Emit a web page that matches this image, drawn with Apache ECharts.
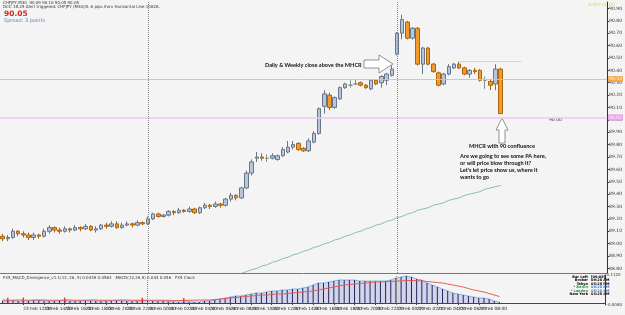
<!DOCTYPE html>
<html lang="en">
<head>
<meta charset="UTF-8">
<title>CHFJPY,M30</title>
<script src="https://cdn.jsdelivr.net/npm/echarts@6/dist/echarts.min.js"></script>
<style>
  html, body { margin: 0; padding: 0; background: #f4f4f4; }
  #chart { width: 625px; height: 315px; }
</style>
</head>
<body>
<div id="chart"></div>
<script>
// 30 min bars, 23 Feb 10:00 -> 27 Feb 10:00
var opens = [
  89.06, 89.04, 89.05, 89.10, 89.08, 89.07, 89.05, 89.07, 89.06, 89.10,
  89.13, 89.11, 89.10, 89.12, 89.11, 89.13, 89.12, 89.14, 89.11, 89.12,
  89.15, 89.14, 89.16, 89.13, 89.15, 89.16, 89.15, 89.17, 89.16, 89.20,
  89.24, 89.22, 89.23, 89.26, 89.25, 89.27, 89.26, 89.28, 89.25, 89.29,
  89.31, 89.30, 89.32, 89.31, 89.36, 89.39, 89.37, 89.45, 89.57, 89.69,
  89.70, 89.69, 89.69, 89.68, 89.71, 89.74, 89.78, 89.81, 89.77, 89.75,
  89.82, 89.89, 90.11, 90.20, 90.10, 90.17, 90.26, 90.28, 90.29, 90.30,
  90.28, 90.25, 90.32, 90.30, 90.32, 90.36, 90.53, 90.70, 90.79, 90.66,
  90.74, 90.45, 90.58, 90.45, 90.38, 90.29, 90.37, 90.42, 90.45, 90.42,
  90.37, 90.40, 90.40, 90.32, 90.31, 90.29, 90.41
];
var closes = [
  89.04, 89.05, 89.10, 89.08, 89.07, 89.05, 89.07, 89.06, 89.10, 89.13,
  89.11, 89.10, 89.12, 89.11, 89.13, 89.12, 89.14, 89.11, 89.12, 89.15,
  89.14, 89.16, 89.13, 89.15, 89.16, 89.15, 89.17, 89.16, 89.20, 89.24,
  89.22, 89.23, 89.26, 89.25, 89.27, 89.26, 89.28, 89.25, 89.29, 89.31,
  89.30, 89.32, 89.31, 89.36, 89.39, 89.37, 89.45, 89.57, 89.66, 89.70,
  89.69, 89.69, 89.71, 89.71, 89.76, 89.78, 89.80, 89.76, 89.75, 89.83,
  89.89, 90.09, 90.21, 90.10, 90.18, 90.26, 90.29, 90.28, 90.29, 90.28,
  90.26, 90.32, 90.29, 90.35, 90.37, 90.41, 90.70, 90.81, 90.66, 90.74,
  90.45, 90.58, 90.45, 90.39, 90.28, 90.37, 90.43, 90.45, 90.42, 90.37,
  90.40, 90.39, 90.32, 90.32, 90.28, 90.41, 90.05
];
var lows = [
  89.02, 89.02, 89.04, 89.06, 89.05, 89.03, 89.03, 89.04, 89.05, 89.08,
  89.09, 89.08, 89.09, 89.09, 89.10, 89.10, 89.11, 89.10, 89.09, 89.11,
  89.12, 89.13, 89.12, 89.12, 89.14, 89.13, 89.14, 89.15, 89.15, 89.19,
  89.21, 89.21, 89.22, 89.23, 89.24, 89.25, 89.25, 89.24, 89.24, 89.28,
  89.28, 89.29, 89.29, 89.30, 89.34, 89.35, 89.36, 89.44, 89.55, 89.66,
  89.67, 89.66, 89.68, 89.67, 89.70, 89.73, 89.76, 89.75, 89.74, 89.74,
  89.81, 89.88, 90.05, 90.08, 90.09, 90.16, 90.25, 90.26, 90.28, 90.27,
  90.25, 90.24, 90.28, 90.26, 90.28, 90.35, 90.52, 90.65, 90.65, 90.65,
  90.44, 90.37, 90.44, 90.38, 90.27, 90.28, 90.36, 90.41, 90.41, 90.36,
  90.34, 90.37, 90.31, 90.25, 90.24, 90.24, 90.05
];
var highs = [
  89.08, 89.07, 89.12, 89.11, 89.10, 89.09, 89.09, 89.08, 89.12, 89.15,
  89.14, 89.13, 89.14, 89.13, 89.15, 89.14, 89.16, 89.15, 89.14, 89.16,
  89.17, 89.18, 89.18, 89.17, 89.18, 89.17, 89.19, 89.18, 89.22, 89.25,
  89.25, 89.24, 89.27, 89.27, 89.29, 89.28, 89.30, 89.29, 89.30, 89.33,
  89.32, 89.34, 89.33, 89.37, 89.41, 89.40, 89.46, 89.59, 89.68, 89.74,
  89.73, 89.72, 89.73, 89.72, 89.78, 89.83, 89.83, 89.82, 89.78, 89.85,
  89.91, 90.10, 90.24, 90.22, 90.19, 90.27, 90.30, 90.32, 90.33, 90.31,
  90.29, 90.33, 90.33, 90.36, 90.38, 90.44, 90.71, 90.85, 90.80, 90.75,
  90.75, 90.59, 90.59, 90.46, 90.39, 90.38, 90.45, 90.46, 90.47, 90.43,
  90.41, 90.42, 90.41, 90.35, 90.33, 90.45, 90.42
];

// slow moving average (green), starts at bar 46
var maStart = 46;
var maValues = [
  88.76, 88.775, 88.79, 88.80, 88.82, 88.83, 88.85, 88.86, 88.88, 88.89,
  88.91, 88.92, 88.94, 88.95, 88.97, 88.98, 89.00, 89.01, 89.03, 89.04,
  89.06, 89.07, 89.09, 89.10, 89.12, 89.13, 89.15, 89.16, 89.18, 89.19,
  89.21, 89.22, 89.24, 89.25, 89.27, 89.28, 89.29, 89.31, 89.32, 89.33,
  89.35, 89.36, 89.37, 89.39, 89.40, 89.41, 89.42, 89.44, 89.45, 89.46,
  89.47
];

// MACD sub window
var macdHist = [
  0.009, 0.007, 0.011, 0.008, 0.006, 0.008, 0.012, 0.011, 0.009, 0.007,
  0.008, 0.010, 0.009, 0.008, 0.007, 0.008, 0.011, 0.009, 0.008, 0.007,
  0.008, 0.009, 0.011, 0.009, 0.008, 0.007, 0.008, 0.009, 0.010, 0.008,
  0.007, 0.008, 0.006, 0.005, 0.004, 0.004, 0.005, 0.004,
  0.004, 0.008, 0.008, 0.012, 0.016, 0.020, 0.024, 0.028, 0.028, 0.032,
  0.036, 0.040, 0.040, 0.044, 0.048, 0.048, 0.052, 0.052, 0.056, 0.056,
  0.060, 0.064, 0.072, 0.080, 0.080, 0.084, 0.088, 0.092, 0.092, 0.092,
  0.092, 0.088, 0.088, 0.088, 0.088, 0.088, 0.088, 0.092, 0.100, 0.104,
  0.108, 0.104, 0.096, 0.092, 0.080, 0.072, 0.064, 0.056, 0.048, 0.040,
  0.036, 0.032, 0.028, 0.024, 0.020, 0.020, 0.016, 0.008, 0.004
];
var macdSignal = [
  0.012, 0.011, 0.011, 0.012, 0.012, 0.011, 0.011, 0.012, 0.012, 0.011,
  0.011, 0.011, 0.012, 0.012, 0.011, 0.011, 0.011, 0.012, 0.012, 0.011,
  0.011, 0.011, 0.011, 0.012, 0.012, 0.011, 0.011, 0.011, 0.011, 0.011,
  0.011, 0.011, 0.011, 0.010, 0.010, 0.010, 0.011, 0.011,
  0.012, 0.012, 0.012, 0.014, 0.016, 0.018, 0.020, 0.022, 0.024, 0.026,
  0.028, 0.030, 0.032, 0.032, 0.034, 0.036, 0.036, 0.038, 0.040, 0.042,
  0.044, 0.046, 0.048, 0.052, 0.056, 0.060, 0.064, 0.068, 0.072, 0.074,
  0.076, 0.078, 0.080, 0.082, 0.084, 0.084, 0.086, 0.086, 0.088, 0.088,
  0.090, 0.090, 0.090, 0.088, 0.086, 0.084, 0.082, 0.080, 0.076, 0.072,
  0.068, 0.064, 0.058, 0.052, 0.048, 0.044, 0.038, 0.032, 0.026
];
var divergenceBars = [1, 4, 12, 27, 35];

// one label every 4 bars (2 hours)
var xTickLabels = [
  '23 Feb 2012', '23 Feb 12:00', '23 Feb 14:00', '23 Feb 16:00', '23 Feb 18:00',
  '23 Feb 20:00', '23 Feb 22:00', '24 Feb 00:00', '24 Feb 02:00', '24 Feb 04:00',
  '24 Feb 06:00', '24 Feb 08:00', '24 Feb 10:00', '24 Feb 12:00', '24 Feb 14:00',
  '24 Feb 16:00', '24 Feb 18:00', '24 Feb 20:00', '24 Feb 22:00', '27 Feb 00:00',
  '27 Feb 02:00', '27 Feb 04:00', '27 Feb 06:00', '27 Feb 08:00', '27 Feb 10:00'
];
var daySeparators = [28, 76];

// horizontal levels
var mhcrLevel = 90.33;
var level90 = 90.02;
var upperLevel = 90.47;

var totalSlots = 117;   // bars + empty chart shift on the right
var cats = [];
for (var i = 0; i < totalSlots; i++) cats.push(String(i));

var candles = opens.map(function (o, i) { return [o, closes[i], lows[i], highs[i]]; });
var maData = [];
for (var i = 0; i < maStart; i++) maData.push('-');
maValues.forEach(function (v) { maData.push(v); });
var lastPrice = closes[closes.length - 1];

var axisFont = 'DejaVu Sans';
var noteFont = 'bold 5.6px Lato';

function boxLabel(bg, fg, txt) {
  return {
    show: true, position: 'end', distance: 1, formatter: txt,
    backgroundColor: bg, color: fg, fontSize: 4.5, fontFamily: axisFont,
    padding: [1, 1, 0, 1]
  };
}
function sepLine(v) {
  return { xAxis: v, lineStyle: { color: '#888', type: 'dotted', width: 1 }, label: { show: false } };
}

function txt(x, y, s, font, fill, align) {
  return {
    type: 'text', x: x, y: y, silent: true,
    style: { text: s, font: font, fill: fill, align: align || 'left', verticalAlign: 'top' }
  };
}

var clockRows = [
  ['Bar Left', '[09:08]', '#000'],
  ['Broker', '09:28 AM', '#000'],
  ['Tokyo', '05:28 PM', '#000'],
  ['* Berlin', '09:28 AM', '#2e9a2e'],
  ['* London', '08:28 AM', '#2e9a2e'],
  ['New York', '03:28 AM', '#000']
];

var graphics = [
  txt(3, 1, 'CHFJPY,M30  90.09 90.10 90.05 90.05', '4px ' + axisFont, '#333'),
  txt(3, 5, 'DCC 18:25 Alert triggered: CHFJPY (M30)/IL 6 pips from Horizontal Line 10826.', '4px ' + axisFont, '#333'),
  txt(4, 10, lastPrice.toFixed(2), 'bold 7.5px ' + axisFont, '#d8231f'),
  txt(4, 18, 'Spread: 3 points', '5px ' + axisFont, '#5a84c0'),
  txt(588, 2, '4:00+00:00', '4.5px ' + axisFont, '#e3d54a'),
  txt(265, 62, 'Daily & Weekly close above the MHCR', noteFont, '#111'),
  {
    type: 'polygon', silent: true,
    shape: { points: [[364, 60], [379, 60], [379, 55], [393, 64], [379, 73], [379, 68], [364, 68]] },
    style: { fill: '#fff', stroke: '#777', lineWidth: 0.8 }
  },
  {
    type: 'polygon', silent: true,
    shape: { points: [[502, 118], [508, 130], [505, 130], [505, 143], [499, 143], [499, 130], [496, 130]] },
    style: { fill: '#fff', stroke: '#777', lineWidth: 0.8 }
  },
  txt(469, 143, 'MHCR with 90 confluence', noteFont, '#111'),
  txt(460, 153, 'Are we going to see some PA here,', noteFont, '#111'),
  txt(460, 160, 'or will price blow through it?', noteFont, '#111'),
  txt(460, 167, "Let's let price show us, where it", noteFont, '#111'),
  txt(460, 174, 'wants to go', noteFont, '#111'),
  txt(549, 117, '90.00', '4.5px ' + axisFont, '#333'),
  txt(3, 276, 'FX5_MACD_Divergence_v1.1(12, 26, 9) 0.0439 0.0563   MACD(12,26,9) 0.044 0.056   FX5 Clock', '4px ' + axisFont, '#333'),
  txt(3, 301, 'FX5 Clock v1.0 2010 - Free System Software Deal', '4px ' + axisFont, '#333')
];
clockRows.forEach(function (r, k) {
  graphics.push(txt(588, 275 + k * 3.5, r[0], 'bold 3.5px ' + axisFont, r[2], 'right'));
  graphics.push(txt(591, 275 + k * 3.5, r[1], 'bold 3.5px ' + axisFont, k === 3 || k === 4 ? '#3a7fd0' : '#000'));
});

var chart = echarts.init(document.getElementById('chart'));
var option = {
  animation: false,
  backgroundColor: '#f4f4f4',
  grid: [
    { left: -1, right: 13, top: 2, height: 271 },
    { left: -1, right: 13, top: 275, height: 30 }
  ],
  xAxis: [
    {
      type: 'category', gridIndex: 0, data: cats, boundaryGap: true,
      axisLabel: { show: false }, axisTick: { show: false },
      axisLine: { show: true, lineStyle: { color: '#777', width: 1 } },
      splitLine: { show: false }
    },
    {
      type: 'category', gridIndex: 1, data: cats, boundaryGap: true,
      axisLine: { show: true, lineStyle: { color: '#444', width: 1 } },
      axisTick: {
        show: true, length: 2, alignWithLabel: true, lineStyle: { color: '#444' },
        interval: function (idx) { return idx % 4 === 0 && idx < opens.length; }
      },
      axisLabel: {
        fontSize: 4.3, fontFamily: axisFont, color: '#222', margin: 2, align: 'left',
        interval: function (idx) { return idx % 4 === 0 && idx < opens.length; },
        formatter: function (v, idx) { return xTickLabels[idx / 4] || ''; }
      },
      splitLine: { show: false }
    }
  ],
  yAxis: [
    {
      type: 'value', gridIndex: 0, position: 'right', scale: true,
      min: 88.763, max: 90.952, splitNumber: 22,
      splitLine: { show: false },
      axisLine: { show: true, lineStyle: { color: '#333', width: 1 } },
      axisTick: { show: true, length: 2, lineStyle: { color: '#333' } },
      axisLabel: {
        fontSize: 4.5, fontFamily: axisFont, color: '#333', margin: 2,
        showMinLabel: false, showMaxLabel: false,
        formatter: function (v) { return v.toFixed(2); }
      }
    },
    {
      type: 'value', gridIndex: 1, position: 'right',
      min: -0.008, max: 0.112, splitNumber: 1,
      splitLine: { show: false },
      axisLine: { show: true, lineStyle: { color: '#333', width: 1 } },
      axisTick: { show: false },
      axisLabel: {
        fontSize: 4, fontFamily: axisFont, color: '#333', margin: 1,
        formatter: function (v) { return (v === 0.112 || v === -0.008) ? v.toFixed(4) : ''; }
      }
    }
  ],
  series: [
    {
      name: 'CHFJPY', type: 'candlestick', xAxisIndex: 0, yAxisIndex: 0,
      data: candles, barWidth: 4,
      itemStyle: {
        color: '#b9c6d8', color0: '#f39a2a',
        borderColor: '#67778b', borderColor0: '#a9640f',
        borderColorDoji: '#8a8a8a', borderWidth: 1
      },
      markLine: {
        silent: true, symbol: ['none', 'none'], animation: false,
        data: [
          { yAxis: mhcrLevel, lineStyle: { color: '#f4bd7c', width: 1, type: 'solid', opacity: 0.9 },
            label: boxLabel('#f2a238', '#fff', mhcrLevel.toFixed(2)) },
          { yAxis: level90, lineStyle: { color: '#eec8f0', width: 1.5, type: 'solid' },
            label: boxLabel('#ee9cee', '#fff', level90.toFixed(2)) },
          { yAxis: lastPrice, lineStyle: { opacity: 0 },
            label: boxLabel('#000', '#fff', lastPrice.toFixed(2)) },
          [
            { coord: [88, upperLevel], lineStyle: { color: '#f6cf9e', width: 1, type: 'solid' }, label: { show: false } },
            { coord: [100, upperLevel] }
          ],
          sepLine(daySeparators[0]),
          sepLine(daySeparators[1])
        ]
      },
      z: 3
    },
    {
      name: 'MA', type: 'line', xAxisIndex: 0, yAxisIndex: 0, data: maData,
      symbol: 'none', lineStyle: { color: '#84c69c', width: 1 }, z: 2
    },
    {
      name: 'MACD', type: 'line', xAxisIndex: 1, yAxisIndex: 1, data: macdHist,
      symbol: 'none', lineStyle: { color: '#8ab6e8', width: 1 },
      areaStyle: { color: '#d4d5ea', opacity: 1 }, z: 1
    },
    {
      name: 'Hist', type: 'bar', xAxisIndex: 1, yAxisIndex: 1, data: macdHist,
      barWidth: 1, itemStyle: { color: '#22265e' }, z: 2,
      markLine: {
        silent: true, symbol: ['none', 'none'], animation: false,
        data: [sepLine(daySeparators[0]), sepLine(daySeparators[1])]
      }
    },
    {
      name: 'Signal', type: 'line', xAxisIndex: 1, yAxisIndex: 1, data: macdSignal,
      symbol: 'none', lineStyle: { color: '#e0615b', width: 1 }, z: 3
    },
    {
      name: 'Div', type: 'scatter', xAxisIndex: 1, yAxisIndex: 1,
      data: divergenceBars.map(function (b) { return [b, macdSignal[b]]; }),
      symbol: 'rect', symbolSize: [1.5, 5], itemStyle: { color: '#d21f1f' }, z: 4
    }
  ],
  graphic: graphics
};
chart.setOption(option);
</script>
</body>
</html>
